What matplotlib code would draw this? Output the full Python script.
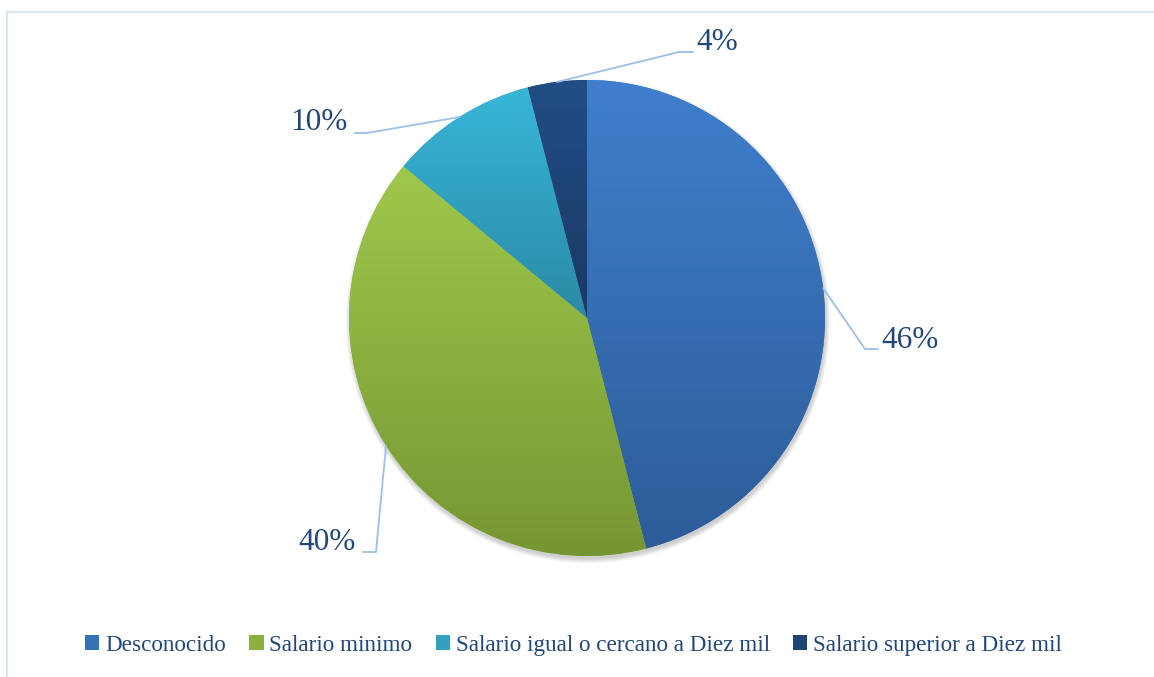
import numpy as np
import matplotlib
matplotlib.use("Agg")
import matplotlib.pyplot as plt
from matplotlib.patches import Patch, Circle
from matplotlib.colors import to_rgb

categories = ["Desconocido", "Salario minimo", "Salario igual o cercano a Diez mil",
              "Salario superior a Diez mil"]
values = [46, 40, 10, 4]
pct_labels = ["46%", "40%", "10%", "4%"]

top_colors = ["#3F7FCD", "#9FC84B", "#38B6D8", "#224E85"]
bottom_colors = ["#2D5C98", "#769633", "#2A8AA4", "#1A3963"]
mid_colors = ["#3670B5", "#8BB040", "#31A1BF", "#1E4474"]

TEXT = "#22477A"
LEADER = "#9DBFE8"
FONT = "Liberation Serif"

W, H = 1154, 677
fig = plt.figure(figsize=(W / 100, H / 100), dpi=100)
ax = fig.add_axes([0, 0, 1, 1])
ax.set_xlim(0, W)
ax.set_ylim(0, H)
ax.axis("off")

cx, cy, r = 587, H - 318, 238

# soft shadow
for i in range(8):
    ax.add_patch(Circle((cx + 1, cy - 3), r + 0.6 * i, color="k", alpha=0.025,
                        lw=0, zorder=0))

wedges, _ = ax.pie(values, colors=mid_colors, startangle=90, counterclock=False,
                   center=(cx, cy), radius=r, wedgeprops=dict(linewidth=0),
                   frame=True)

# vertical gradient per slice
for w, tc, bc in zip(wedges, top_colors, bottom_colors):
    ext = w.get_path().get_extents(w.get_patch_transform())
    t = np.linspace(0, 1, 256)[:, None]
    c0, c1 = np.array(to_rgb(tc)), np.array(to_rgb(bc))
    img = (c0[None, None, :] * (1 - t[..., None]) + c1[None, None, :] * t[..., None])
    img = np.repeat(img, 2, axis=1)
    im = ax.imshow(img, extent=(ext.x0, ext.x1, ext.y0, ext.y1), origin="upper",
                   aspect="auto", zorder=w.get_zorder() + 0.1, interpolation="bilinear")
    im.set_clip_path(w)

ax.set_xlim(0, W)
ax.set_ylim(0, H)
ax.set_aspect("equal")
ax.axis("off")

# label layout: elbow point, horizontal end, text x, text y (pixel coords from top)
elbows = [(865, 349), (376, 552), (367, 133), (679, 52)]
ends = [(878, 349), (363, 552), (355, 133), (693, 52)]
text_pos = [(881, 340, "left"), (356, 543, "right"), (348, 123, "right"), (696, 42, "left")]

cum = 0
for v, lab, el, en, tp in zip(values, pct_labels, elbows, ends, text_pos):
    mid = 90 - (cum + v / 2) / sum(values) * 360
    cum += v
    sx = cx + r * np.cos(np.radians(mid))
    sy = cy + r * np.sin(np.radians(mid))
    ax.plot([sx, el[0], en[0]], [sy, H - el[1], H - en[1]], color=LEADER, lw=1.3,
            solid_joinstyle="miter", zorder=5)
    ax.text(tp[0], H - tp[1], lab, ha=tp[2], va="center", fontsize=22.5,
            family=FONT, color=TEXT, zorder=6)

# border lines (top and left)
ax.plot([7, W], [H - 12, H - 12], color="#DAE6F4", lw=1.6, zorder=1)
ax.plot([7, 7], [0, H - 12], color="#DAE6F4", lw=1.6, zorder=1)

handles = [Patch(facecolor=c, edgecolor="none") for c in mid_colors]
fig.legend(handles, categories, loc="center", bbox_to_anchor=(0.497, 0.047), ncol=4,
           frameon=False, handlelength=0.62, handleheight=0.62, handletextpad=0.25,
           columnspacing=1.0, prop={"family": FONT, "size": 16.7}, labelcolor=TEXT)

fig.savefig("out.png", dpi=100)
